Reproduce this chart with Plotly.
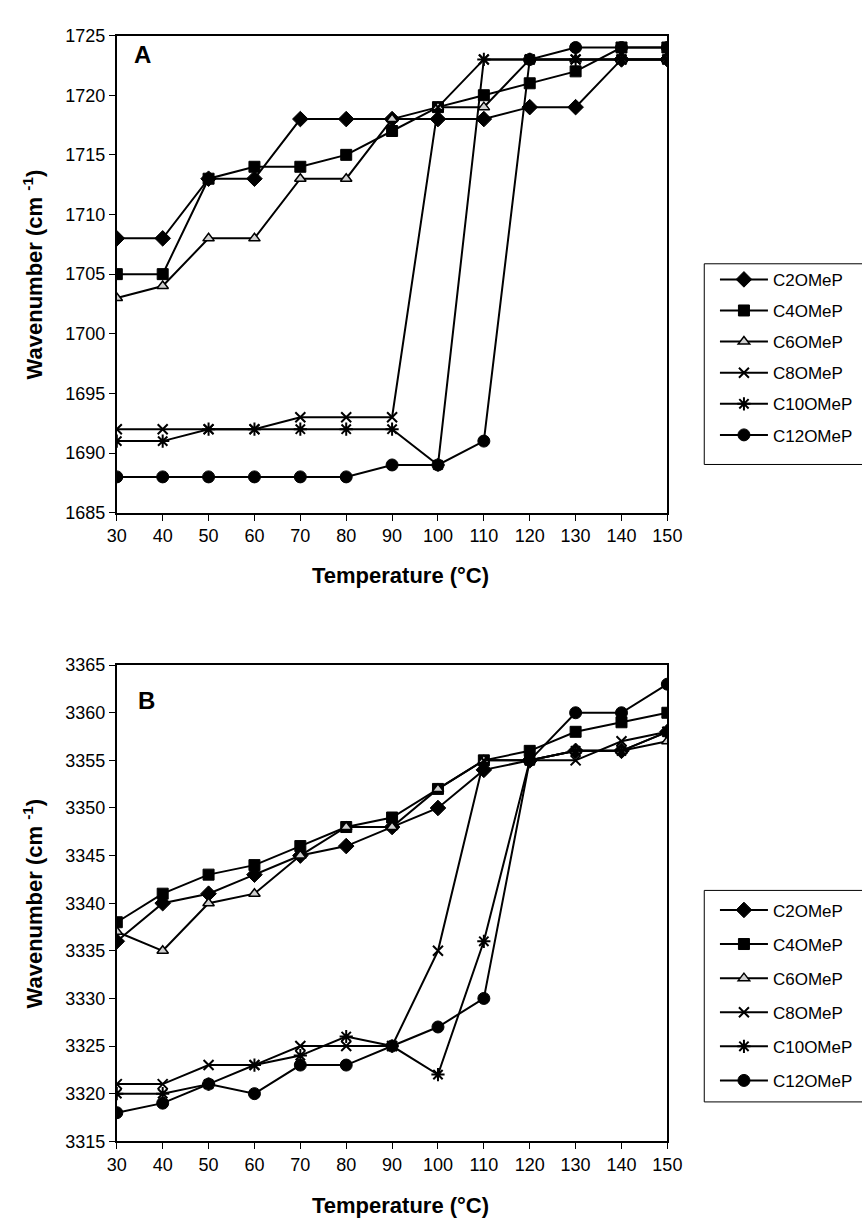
import plotly.graph_objects as go

temps = [30, 40, 50, 60, 70, 80, 90, 100, 110, 120, 130, 140, 150]
names = ["C2OMeP", "C4OMeP", "C6OMeP", "C8OMeP", "C10OMeP", "C12OMeP"]

# Panel A: C=O stretching
a_c2 = [1708, 1708, 1713, 1713, 1718, 1718, 1718, 1718, 1718, 1719, 1719, 1723, 1723]
a_c4 = [1705, 1705, 1713, 1714, 1714, 1715, 1717, 1719, 1720, 1721, 1722, 1724, 1724]
a_c6 = [1703, 1704, 1708, 1708, 1713, 1713, 1718, 1719, 1719, 1723, 1723, 1723, 1723]
a_c8 = [1692, 1692, 1692, 1692, 1693, 1693, 1693, 1719, 1723, 1723, 1723, 1723, 1723]
a_c10 = [1691, 1691, 1692, 1692, 1692, 1692, 1692, 1689, 1723, 1723, 1723, 1723, 1723]
a_c12 = [1688, 1688, 1688, 1688, 1688, 1688, 1689, 1689, 1691, 1723, 1724, 1724, 1724]

# Panel B: N-H stretching
b_c2 = [3336, 3340, 3341, 3343, 3345, 3346, 3348, 3350, 3354, 3355, 3356, 3356, 3358]
b_c4 = [3338, 3341, 3343, 3344, 3346, 3348, 3349, 3352, 3355, 3356, 3358, 3359, 3360]
b_c6 = [3337, 3335, 3340, 3341, 3345, 3348, 3348, 3352, 3355, 3355, 3356, 3356, 3357]
b_c8 = [3321, 3321, 3323, 3323, 3325, 3325, 3325, 3335, 3355, 3355, 3355, 3357, 3358]
b_c10 = [3320, 3320, 3321, 3323, 3324, 3326, 3325, 3322, 3336, 3355, 3356, 3356, 3358]
b_c12 = [3318, 3319, 3321, 3320, 3323, 3323, 3325, 3327, 3330, 3355, 3360, 3360, 3363]

a_ticks = [1685, 1690, 1695, 1700, 1705, 1710, 1715, 1720, 1725]
b_ticks = [3315, 3320, 3325, 3330, 3335, 3340, 3345, 3350, 3355, 3360, 3365]

markers = [
    dict(symbol="diamond", size=12, color="black", line=dict(color="black", width=1)),
    dict(symbol="square", size=11, color="black", line=dict(color="black", width=1)),
    dict(symbol="triangle-up", size=10, color="#d0d0d0", line=dict(color="black", width=1.5)),
    dict(symbol="x-thin", size=10, color="black", line=dict(color="black", width=2)),
    dict(symbol="asterisk", size=11, color="black", line=dict(color="black", width=2)),
    dict(symbol="circle", size=12, color="black", line=dict(color="black", width=1)),
]

FONT = "Liberation Sans, Arial, sans-serif"
fig = go.Figure()

for i, ys in enumerate([a_c2, a_c4, a_c6, a_c8, a_c10, a_c12]):
    fig.add_trace(go.Scatter(x=temps, y=ys, name=names[i], mode="lines+markers",
                             line=dict(color="black", width=2), marker=markers[i],
                             xaxis="x", yaxis="y", legend="legend", legendgroup="a" + str(i)))
for i, ys in enumerate([b_c2, b_c4, b_c6, b_c8, b_c10, b_c12]):
    fig.add_trace(go.Scatter(x=temps, y=ys, name=names[i], mode="lines+markers",
                             line=dict(color="black", width=2), marker=markers[i],
                             xaxis="x2", yaxis="y2", legend="legend2", legendgroup="b" + str(i)))

W, H = 862, 1227
xd = [110 / W, 677 / W]
ya = [1 - 511 / H, 1 - 26 / H]
yb = [1 - 1150 / H, 1 - 666 / H]

axis_common = dict(showline=True, linecolor="black", linewidth=2, mirror=True,
                   ticks="outside", ticklen=6, tickcolor="black", tickwidth=1,
                   showgrid=False, zeroline=False,
                   tickfont=dict(family=FONT, size=18, color="black"))

leg_common = dict(xanchor="left", yanchor="top", borderwidth=0, bgcolor="rgba(0,0,0,0)",
                  font=dict(family=FONT, size=17, color="black"), itemwidth=48)

fig.update_layout(
    width=W, height=H, margin=dict(l=0, r=0, t=0, b=0),
    paper_bgcolor="white", plot_bgcolor="white",
    font=dict(family=FONT, color="black"),
    xaxis=dict(domain=xd, anchor="y", range=[30, 150], tickvals=temps, **axis_common),
    yaxis=dict(domain=ya, anchor="x", range=[1685, 1725], tickvals=a_ticks, **axis_common),
    xaxis2=dict(domain=xd, anchor="y2", range=[30, 150], tickvals=temps, **axis_common),
    yaxis2=dict(domain=yb, anchor="x2", range=[3315, 3365], tickvals=b_ticks, **axis_common),
    legend=dict(x=726 / W, y=1 - 256 / H, tracegroupgap=6, **leg_common),
    legend2=dict(x=726 / W, y=1 - 897 / H, tracegroupgap=9, **leg_common),
    showlegend=True,
)

# legend frames (the reference frames run off the right edge of the page)
for y0, y1 in [(258, 462), (895, 1110)]:
    fig.add_shape(type="rect", xref="paper", yref="paper", x0=715 / W, x1=880 / W,
                  y0=1 - y1 / H, y1=1 - y0 / H, line=dict(color="black", width=1),
                  fillcolor="rgba(0,0,0,0)", layer="below")

ann_font = dict(family=FONT, size=22, color="black")
fig.add_annotation(text="<b>A</b>", x=0.028, y=0.96, xref="x domain", yref="y domain",
                   showarrow=False, xanchor="left", yanchor="middle",
                   font=dict(family=FONT, size=24, color="black"))
fig.add_annotation(text="<b>B</b>", x=0.035, y=0.925, xref="x2 domain", yref="y2 domain",
                   showarrow=False, xanchor="left", yanchor="middle",
                   font=dict(family=FONT, size=24, color="black"))
for yd, ty in [(ya, 575), (yb, 1215)]:
    fig.add_annotation(text="<b>Temperature (°C)</b>", x=(xd[0] + xd[1]) / 2 + 0.01, y=1 - ty / H,
                       xref="paper", yref="paper", showarrow=False,
                       xanchor="center", yanchor="middle", font=ann_font)
    fig.add_annotation(text="<b>Wavenumber (cm <sup>-1</sup>)</b>", x=24 / W,
                       y=(yd[0] + yd[1]) / 2, xref="paper", yref="paper", showarrow=False,
                       textangle=-90, xanchor="center", yanchor="middle", font=ann_font)

fig.write_html("out.html")
